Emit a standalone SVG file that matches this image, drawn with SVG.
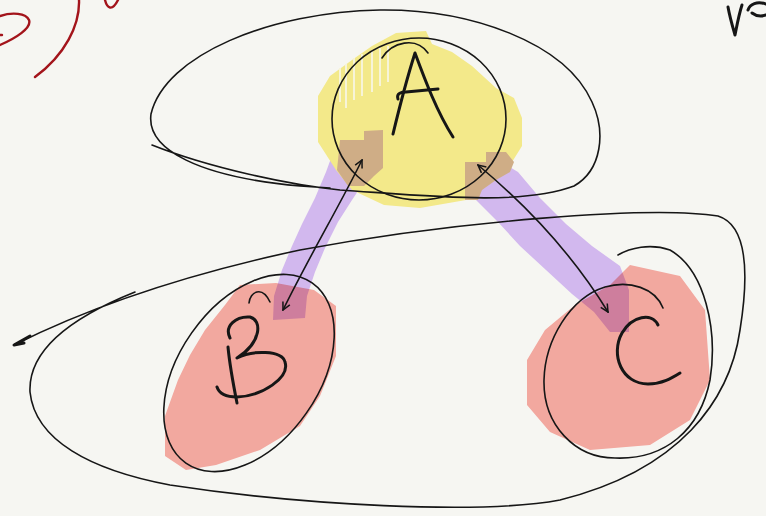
<svg xmlns="http://www.w3.org/2000/svg" width="766" height="516" viewBox="0 0 766 516">
<style>
.ink{fill:none;stroke:#161616;stroke-linecap:round;stroke-linejoin:round}
.thin{stroke-width:1.6}
.let{stroke-width:3}
.red{fill:none;stroke:#a3141b;stroke-width:2.4;stroke-linecap:round}
.yel{fill:#f3e98a}
.brn{fill:#cfad86}
.pur{fill:#d2b8ee}
.pnk{fill:#fbaea8;mix-blend-mode:multiply}
.gap{stroke:#f7f4d8;stroke-width:2}
</style>
<defs>
<marker id="hd" viewBox="0 0 10 10" refX="9" refY="5" markerWidth="6" markerHeight="6" orient="auto-start-reverse">
<path d="M1,1 L9,5 L1,9" fill="none" stroke="#161616" stroke-width="1.6"/>
</marker>
</defs>
<rect width="766" height="516" fill="#f6f6f2"/>

<!-- red marks top-left -->
<path class="red" d="M0,16 C12,12 26,13 29,20 C32,28 16,38 0,45"/>
<path class="red" d="M0,35 L2,35"/>
<path class="red" d="M79,0 C80,25 65,55 35,77"/>
<path class="red" d="M105,0 C107,8 112,12 118,0"/>
<!-- top-right marks -->
<path class="ink let" d="M728,7 C730,18 733,28 735,35 C737,25 739,14 742,5"/>
<path class="ink let" d="M748,10 C750,4 757,1 766,4 M752,13 C756,16 761,17 766,15"/>

<!-- purple bands -->
<path class="pur" d="M334,150 L362,160 L362,185 L352,200 L338,222 L325,248 L315,272 L307,296 L305,318 L273,320 L274,296 L282,270 L292,246 L302,224 L315,198 L326,172 Z"/>
<path class="pur" d="M498,160 L518,172 L540,198 L566,224 L592,246 L620,266 L629,290 L629,332 L610,332 L594,312 L572,294 L546,270 L520,246 L498,222 L476,200 L470,176 Z"/>

<!-- node A -->
<g id="A">
<path class="yel" d="M396,33 L426,31 L432,44 L452,52 L472,66 L496,88 L514,98 L522,118 L522,146 L512,162 L492,182 L466,200 L420,208 L384,205 L352,190 L336,170 L318,142 L318,96 L330,76 L352,60 L372,46 Z"/>
<path class="gap" d="M340,68 V102 M346,64 V108 M354,58 V100 M362,54 V96 M372,50 V92 M380,48 V86 M388,46 V82"/>
<path class="brn" d="M340,140 L364,140 L364,131 L383,130 L383,168 L374,176 L364,186 L348,186 L337,170 Z"/>
<path class="brn" d="M486,152 L506,152 L514,162 L510,172 L496,180 L482,190 L478,200 L465,200 L465,162 L486,162 Z"/>
<ellipse class="ink thin" cx="419" cy="119" rx="87" ry="81"/>
<path class="ink let" d="M393,134 C400,105 408,75 415,53 C425,80 437,112 453,137"/>
<path class="ink let" d="M398,99 C396,93 402,92 406,92 C416,91 428,90 438,89"/>
<path class="ink thin" d="M382,58 C392,42 416,36 428,53"/>
</g>

<!-- node B -->
<g id="B">
<path class="pnk" d="M240,285 L276,283 L314,290 L336,306 L336,356 L320,396 L300,426 L260,450 L216,465 L186,470 L165,456 L165,416 L178,380 L190,355 L205,330 L225,305 Z"/>
<ellipse class="ink thin" cx="249" cy="373" rx="110" ry="70" transform="rotate(-55 249 373)"/>
<path class="ink thin" d="M249,303 C250,292 262,285 270,302"/>
<path class="ink let" d="M228,347 C230,368 234,388 237,403"/>
<path class="ink let" d="M230,338 C224,326 236,316 250,317 C262,320 262,342 237,358 C252,350 282,350 285,362 C290,378 262,396 237,397 C226,397 219,393 217,387"/>
</g>

<!-- node C -->
<g id="C">
<path class="pnk" d="M630,265 L680,276 L705,310 L710,380 L690,420 L650,445 L590,450 L550,432 L527,405 L527,360 L545,330 L575,305 L610,285 Z"/>
<path class="ink thin" d="M663,308 C655,288 630,280 605,287 C570,298 545,340 544,380 C543,425 575,458 615,458 C665,460 700,430 710,380 C718,330 705,270 670,250 C650,243 630,248 618,255"/>
<path class="ink let" d="M658,325 C652,312 632,316 622,333 C610,355 622,384 648,384 C662,384 672,378 680,373"/>
</g>

<!-- lassos -->
<path class="ink thin" d="M152,145 C210,168 290,185 340,190 C430,196 520,206 574,186 C602,170 606,132 592,102 C565,42 470,9 380,10 C270,12 165,55 151,114 C146,150 200,177 300,186 L330,188"/>
<path class="ink thin" d="M14,345 C60,322 150,282 300,250 C450,222 650,205 718,216 C750,226 748,280 740,330 C730,400 680,470 560,500 C480,515 300,505 170,485 C90,470 35,440 30,392 C28,350 70,318 135,292"/>
<path class="ink let" d="M30,336 L14,345 L24,343"/>

<!-- connectors -->
<g id="connectors">
<path class="ink thin" d="M362,160 C340,205 310,255 283,310" marker-start="url(#hd)" marker-end="url(#hd)"/>
<path class="ink thin" d="M478,165 C520,200 570,250 608,312" marker-start="url(#hd)" marker-end="url(#hd)"/>
</g>
</svg>
